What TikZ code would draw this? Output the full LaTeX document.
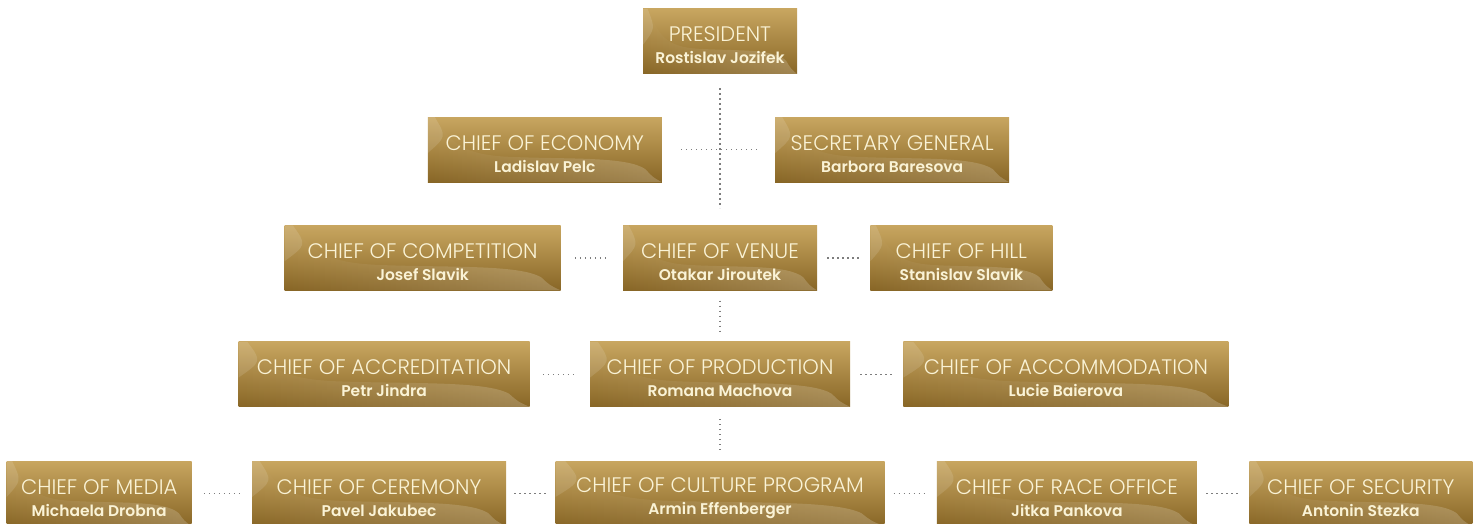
\documentclass[tikz,border=0pt]{standalone}
\usepackage{fontspec}
\setmainfont{Poppins}
\newfontfamily\titlefont{Poppins Light}
\usepackage{tikz}
\usetikzlibrary{positioning,calc,fadings}
\usepackage{xcolor}
\definecolor{goldtop}{RGB}{200,166,96}
\definecolor{goldbot}{RGB}{136,102,38}
\definecolor{cream}{RGB}{250,243,214}
\definecolor{dotgray}{RGB}{125,125,125}
\tikzfading[name=fadeleft, left color=transparent!100, right color=transparent!0]
\newcommand{\namesize}{\fontsize{15.5}{19}\selectfont}

\begin{document}
\begin{tikzpicture}[
    x=1pt, y=1pt,
    node distance=50pt,
    chiefbox/.style={rectangle, top color=goldtop, bottom color=goldbot, minimum height=65pt, inner xsep=2pt, text=cream, align=center, font=\titlefont\fontsize{21}{24}\selectfont,
        execute at begin node={\rule{0pt}{45pt}},
        path picture={
            \fill[white, opacity=0.2, path fading=fadeleft]
                let \p1=(path picture bounding box.south west), \p2=(path picture bounding box.north east), \n1={\x2-\x1}, \n2={\y2-\y1} in
                (\x1+0.03*\n1,\y2) .. controls (\x1+0.1*\n1,\y1+0.6*\n2) and (\x1+0.15*\n1,\y1+0.42*\n2) .. (\x1+0.35*\n1,\y1+0.39*\n2)
                .. controls (\x1+0.6*\n1,\y1+0.35*\n2) and (\x1+0.85*\n1,\y1+0.4*\n2) .. (\x1+0.93*\n1,\y1+0.2*\n2)
                .. controls (\x1+0.96*\n1,\y1+0.08*\n2) .. (\x2,\y1) -- (\x1,\y1) -- cycle;
            \fill[white, opacity=0.12]
                let \p1=(path picture bounding box.south west), \p2=(path picture bounding box.north east), \n1={\x2-\x1}, \n2={\y2-\y1} in
                (\x1,\y2) -- (\x1+0.03*\n1,\y2) .. controls (\x1+0.08*\n1,\y1+0.7*\n2) .. (\x1,\y1+0.45*\n2) -- cycle;
        }},
    link/.style={draw=dotgray, line width=1.4pt, dash pattern=on 1.4pt off 3.6pt},
    hlink/.style={link, shorten <=#1, shorten >=#1}
]
\useasboundingbox (0,0) rectangle (1481,523);
\clip (0,0) rectangle (1481,523);

% top
\node[chiefbox, minimum width=154pt] (pres) at (720,481.5) {PRESIDENT \\[-2pt] \namesize\textbf{Rostislav Jozifek}};
\node[chiefbox, minimum width=194pt, below=151pt of pres] (venue) {CHIEF OF VENUE \\[-2pt] \namesize\textbf{Otakar Jiroutek}};
\coordinate (mid) at ($(pres.south)!0.5!(venue.north)$);
\node[chiefbox, minimum width=234pt, left=58pt of mid] (econ) {CHIEF OF ECONOMY \\[-2pt] \namesize\textbf{Ladislav Pelc}};
\node[chiefbox, minimum width=234pt, right=55pt of mid] (secg) {SECRETARY GENERAL \\[-2pt] \namesize\textbf{Barbora Baresova}};

% row 3
\node[chiefbox, minimum width=276pt, left=62pt of venue] (comp) {CHIEF OF COMPETITION \\[-2pt] \namesize\textbf{Josef Slavik}};
\node[chiefbox, minimum width=182pt, right=53pt of venue] (hill) {CHIEF OF HILL \\[-2pt] \namesize\textbf{Stanislav Slavik}};

% row 4
\node[chiefbox, minimum width=260pt, below=51pt of venue] (prod) {CHIEF OF PRODUCTION \\[-2pt] \namesize\textbf{Romana Machova}};
\node[chiefbox, minimum width=291pt, left=60pt of prod] (accr) {CHIEF OF ACCREDITATION \\[-2pt] \namesize\textbf{Petr Jindra}};
\node[chiefbox, minimum width=325pt, right=53pt of prod] (accom) {CHIEF OF ACCOMMODATION \\[-2pt] \namesize\textbf{Lucie Baierova}};

% row 5
\node[chiefbox, minimum width=329pt, below=54pt of prod] (cult) {CHIEF OF CULTURE PROGRAM \\[-2pt] \namesize\textbf{Armin Effenberger}};
\node[chiefbox, minimum width=254pt, left=49pt of cult] (cer) {CHIEF OF CEREMONY \\[-2pt] \namesize\textbf{Pavel Jakubec}};
\node[chiefbox, minimum width=185pt, left=60pt of cer] (media) {CHIEF OF MEDIA \\[-2pt] \namesize\textbf{Michaela Drobna}};
\node[chiefbox, minimum width=260pt, right=52pt of cult] (race) {CHIEF OF RACE OFFICE \\[-2pt] \namesize\textbf{Jitka Pankova}};
\node[chiefbox, minimum width=223pt, right=52pt of race] (sec) {CHIEF OF SECURITY \\[-2pt] \namesize\textbf{Antonin Stezka}};

% dotted links
\draw[link, shorten <=14pt, shorten >=17pt] (pres) -- (venue);
\draw[link, shorten <=19pt, shorten >=18pt] (econ) -- (secg);
\draw[hlink=14pt] (comp) -- (venue);
\draw[hlink=10pt] (venue) -- (hill);
\draw[link, shorten <=10pt, shorten >=8pt] (venue) -- (prod);
\draw[hlink=13pt] (accr) -- (prod);
\draw[hlink=10pt] (prod) -- (accom);
\draw[link, shorten <=12pt, shorten >=10pt] (prod) -- (cult);
\draw[hlink=12pt] (media) -- (cer);
\draw[hlink=8pt] (cer) -- (cult);
\draw[hlink=9pt] (cult) -- (race);
\draw[hlink=9pt] (race) -- (sec);
\end{tikzpicture}
\end{document}
